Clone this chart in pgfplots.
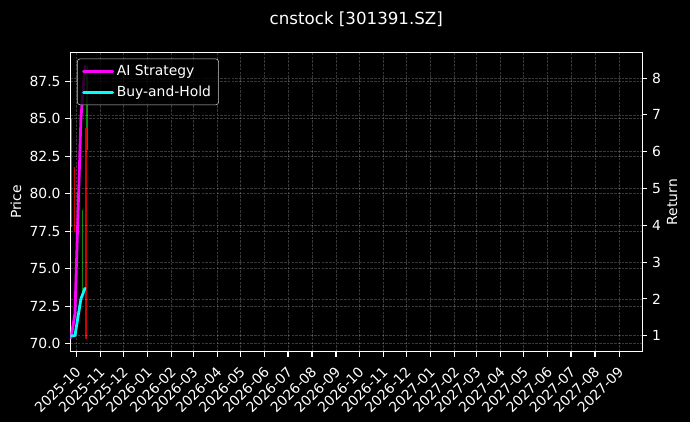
\documentclass[border=0pt]{standalone}
\usepackage{fontspec}
\setmainfont{DejaVu Sans}
\usepackage{pgfplots}
\pgfplotsset{compat=1.18}
\usetikzlibrary{backgrounds}

\definecolor{aistrat}{HTML}{FF00FF}
\definecolor{bnh}{HTML}{00FFFF}
\definecolor{candup}{HTML}{0A8A0A}
\definecolor{canddn}{HTML}{D00000}
\definecolor{frame}{HTML}{FFFFFF}

\pgfplotsset{
  darkgrid/.style={line width=0.5pt, color=white, opacity=0.22,
                   dash pattern=on 1.9pt off 0.8pt},
  common/.style={
    width=411.8pt, height=215.5pt, scale only axis,
    xmin=-7.7, xmax=730,
    axis line style={frame, line width=0.8pt},
    tick style={frame, line width=0.8pt},
    tick align=outside, major tick length=3.5pt,
    ticklabel style={text=white, font=\fontsize{10}{12}\selectfont},
    /pgf/number format/assume math mode=true,
  },
}

\begin{document}
\begin{tikzpicture}
% price axis (candles)
\begin{axis}[common, name=ax,
  ymin=69.47, ymax=89.43,
  tick pos=left,
  xtick={0,31,61,92,123,151,182,212,243,273,304,335,365,396,426,457,488,516,547,577,608,638,669,700},
  xticklabels={2025-10,2025-11,2025-12,2026-01,2026-02,2026-03,2026-04,2026-05,2026-06,2026-07,2026-08,2026-09,2026-10,2026-11,2026-12,2027-01,2027-02,2027-03,2027-04,2027-05,2027-06,2027-07,2027-08,2027-09},
  x tick label style={rotate=45, anchor=north east, xshift=-2pt},
  ytick={70,72.5,75,77.5,80,82.5,85,87.5},
  yticklabel style={/pgf/number format/.cd, fixed, fixed zerofill, precision=1},
  grid=major, major grid style={darkgrid},
  ylabel={Price},
  ylabel style={text=white, font=\fontsize{10}{12}\selectfont,
                at={(axis description cs:-0.0948,0.5)}, anchor=center},
  title={cnstock [301391.SZ]},
  title style={text=white, font=\fontsize{12}{14}\selectfont,
               at={(axis description cs:0.5,1)}, anchor=base, yshift=14pt},
  unbounded coords=jump,
]
\addplot[candup, line width=0.9pt] coordinates {
  (-6.2,77.8) (-6.2,85.0) (-6.2,nan)
  (7.6,73.2) (7.6,78.9) (7.6,nan)
  (14.0,82.9) (14.0,88.5)
};
\addplot[canddn, line width=0.9pt] coordinates {
  (-2.6,77.5) (-2.6,81.8) (-2.6,nan)
  (12.6,70.35) (12.6,84.4)
};
\end{axis}

% return axis (strategy lines)
\begin{axis}[common,
  ymin=0.565, ymax=8.70,
  axis x line=none, axis y line*=right,
  ytick={1,2,3,4,5,6,7,8},
  ymajorgrids, major grid style={darkgrid},
  ylabel={Return},
  ylabel style={text=white, font=\fontsize{10}{12}\selectfont,
                at={(axis description cs:1.052,0.5)}, anchor=center, rotate=0},
  legend style={at={(axis description cs:0.0117,0.979)}, anchor=north west,
                fill=black, fill opacity=0.8, text opacity=1, text=white,
                draw=white!80!black, rounded corners=2pt,
                font=\fontsize{10}{12}\selectfont,
                inner xsep=3.5pt, inner ysep=2.5pt, row sep=2pt},
  legend cell align=left,
  legend image code/.code={\draw[#1, mark=none] (0pt,0pt) -- (21pt,0pt);},
]
\addplot[aistrat, line width=2pt, line join=round, line cap=round] coordinates {
  (-6.8,0.94) (-1.7,1.6) (6.0,6.9) (11.2,8.33)
};
\addlegendentry{AI Strategy}
\addplot[bnh, line width=2pt, line join=round, line cap=round] coordinates {
  (-6.8,1.0) (-1.7,1.0) (6.0,2.0) (11.2,2.29)
};
\addlegendentry{Buy-and-Hold}
\end{axis}

\begin{scope}[on background layer]
\fill[black] ([shift={(-50.6pt,-50.4pt)}]ax.south west) rectangle ([shift={(34.3pt,37.7pt)}]ax.north east);
\end{scope}
\pgfresetboundingbox
\useasboundingbox ([shift={(-50.6pt,-50.4pt)}]ax.south west) rectangle ([shift={(34.3pt,37.7pt)}]ax.north east);
\end{tikzpicture}
\end{document}
